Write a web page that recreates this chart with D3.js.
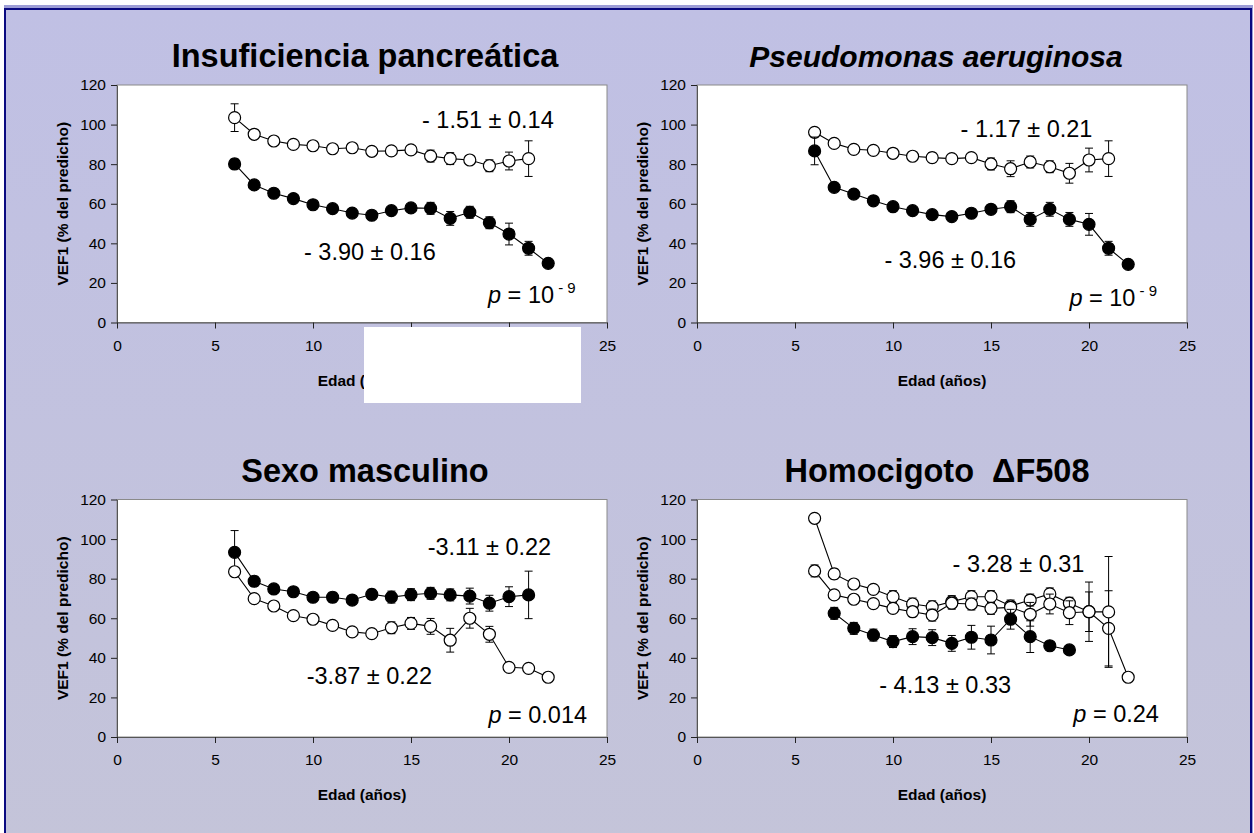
<!DOCTYPE html>
<html><head><meta charset="utf-8">
<script src="https://cdn.jsdelivr.net/npm/d3@7"></script>
<style>
body{margin:0;background:#fff}
svg{display:block}
text{font-family:"Liberation Sans",Arial,Helvetica,sans-serif;fill:#000}
</style>
</head><body>
<svg id="chart" width="1254" height="833"></svg>
<script>
// ---------- data ----------
const ages = [6,7,8,9,10,11,12,13,14,15,16,17,18,19,20,21,22];
const xTicks = [0,5,10,15,20,25];
const yTicks = [0,20,40,60,80,100,120];

const titles = ["Insuficiencia pancreática", "Pseudomonas aeruginosa", "Sexo masculino", "Homocigoto  \u0394F508"];
const xLabel = "Edad (años)";
const yLabel = "VEF1 (% del predicho)";

// Panel 1: Insuficiencia pancreática
const p1Open      = [103.5,95.1,91.7,90.0,89.3,87.8,88.3,86.5,86.7,87.2,84.1,82.8,82.1,79.2,81.6,82.8,null];
const p1OpenErr   = [7,2,1.5,1.5,1.5,1.5,1.5,1.5,1.5,1.5,3,3,2,3,4.5,9,0];
const p1Filled    = [80.1,69.5,65.3,62.6,59.5,57.5,55.3,54.2,56.5,57.9,57.7,52.6,55.7,50.4,44.7,37.5,29.9];
const p1FilledErr = [2.5,1.5,1.5,1.5,1.5,1.5,1.5,1.5,1.5,1.5,3,3.5,3,3,5.5,3.5,0];

// Panel 2: Pseudomonas aeruginosa
const p2Open      = [96.1,90.5,87.5,87.0,85.5,84.0,83.3,82.8,83.3,80.1,77.7,81.1,78.7,75.4,82.1,82.8,null];
const p2OpenErr   = [2,2,1.5,1.5,1.5,1.5,2.5,1.5,1.5,3,4,3,3,5,6,9,0];
const p2Filled    = [86.7,68.3,64.9,61.5,58.5,56.5,54.5,53.5,55.2,57.2,58.5,52.1,57.2,52.1,49.6,37.5,29.4];
const p2FilledErr = [7,1.5,1.5,1.5,1.5,1.5,1.5,1.5,2,1.5,3,3.5,3.5,3.5,5.5,3.5,0];

// Panel 3: Sexo masculino
const p3Filled    = [93.3,78.7,74.8,73.4,70.6,70.6,69.2,72.1,70.7,71.9,72.6,71.8,71.2,67.6,70.9,71.8,null];
const p3FilledErr = [11,2.5,2,2,2,2.5,2,2.5,3,3,3,3,4,4,5,12,0];
const p3Open      = [83.5,69.9,66.2,61.3,59.5,56.4,53.1,52.2,55.2,57.4,55.9,48.9,60.0,51.9,35.2,34.7,30.2];
const p3OpenErr   = [2,2,2,1.5,1.5,1.5,1.5,2,3,3,4,6,5,4,0,0,0];

// Panel 4: Homocigoto ΔF508
const p4OpenA     = [110.5,82.4,77.3,74.6,70.9,67.2,65.8,68.4,70.9,70.9,66.2,69.2,72.3,67.6,63.3,54.9,30.2];
const p4OpenAErr  = [0,2.5,2,2,3,3,3,3,3,3,3,3,3,3,10,19,0];
const p4OpenB     = [83.9,71.8,69.6,67.4,65.0,63.3,61.6,67.6,67.2,65.0,65.5,62.0,67.2,62.8,63.3,63.2,null];
const p4OpenBErr  = [3,2,2,2,2,2.5,3,3,3,3,3,6,5,6,15,28,0];
const p4Filled    = [null,62.5,54.9,51.5,48.2,50.7,50.2,47.3,50.4,49.0,59.5,50.7,46.1,44.0,null,null,null];
const p4FilledErr = [0,3,3,3,3,4,4,4,6,7,5,8,0,0,0,0,0];

// annotations: [text, p-value part, age, value]
const notes1 = [["- 1.51 \u00B1 0.14", null, 15.56, 98.3], ["- 3.90 \u00B1 0.16", null, 9.54, 31.6], ["p", "10|- 9", 18.93, 10.0]];
const notes2 = [["- 1.17 \u00B1 0.21", null, 13.45, 93.6], ["- 3.96 \u00B1 0.16", null, 9.56, 27.4], ["p", "10|- 9", 19.0, 8.3]];
const notes3 = [["-3.11 \u00B1 0.22", null, 15.85, 92.0], ["-3.87 \u00B1 0.22", null, 9.68, 26.6], ["p", "0.014|", 18.95, 7.2]];
const notes4 = [["- 3.28 \u00B1 0.31", null, 13.04, 83.5], ["- 4.13 \u00B1 0.33", null, 9.3, 22.4], ["p", "0.24|", 19.2, 7.7]];

// ---------- layout ----------
const svg = d3.select("#chart");
const defs = svg.append("defs");
const grad = defs.append("linearGradient").attr("id","bg").attr("x1",0).attr("y1",0).attr("x2",0).attr("y2",1);
grad.append("stop").attr("offset","0%").attr("stop-color","#c0c0e4");
grad.append("stop").attr("offset","100%").attr("stop-color","#c4c4d9");

svg.append("rect").attr("x",0).attr("y",0).attr("width",1254).attr("height",833).attr("fill","#fff");
svg.append("rect").attr("x",4).attr("y",5).attr("width",1249).attr("height",840).attr("fill","#9d9dd6");
svg.append("rect").attr("x",5).attr("y",9).attr("width",1246).attr("height",840)
   .attr("fill","url(#bg)").attr("stroke","#0a0a80").attr("stroke-width",2);

const PW = 490, PH = 237.5;
const panels = [
  {title: titles[0], italic:false, fs:32.5, px:117, py:85, tx:365, notes:notes1,
   series:[{v:p1Open,e:p1OpenErr,filled:false},{v:p1Filled,e:p1FilledErr,filled:true}]},
  {title: titles[1], italic:true, fs:30, px:697, py:85, tx:936, notes:notes2,
   series:[{v:p2Open,e:p2OpenErr,filled:false},{v:p2Filled,e:p2FilledErr,filled:true}]},
  {title: titles[2], italic:false, fs:32.5, px:117, py:499.5, tx:365, notes:notes3,
   series:[{v:p3Filled,e:p3FilledErr,filled:true},{v:p3Open,e:p3OpenErr,filled:false}]},
  {title: titles[3], italic:false, fs:32.5, px:697, py:499.5, tx:937, notes:notes4,
   series:[{v:p4OpenA,e:p4OpenAErr,filled:false},{v:p4OpenB,e:p4OpenBErr,filled:false},{v:p4Filled,e:p4FilledErr,filled:true}]}
];

panels.forEach(p => {
  const x = d3.scaleLinear().domain([0,25]).range([p.px, p.px+PW]);
  const y = d3.scaleLinear().domain([0,120]).range([p.py+PH, p.py]);
  const g = svg.append("g");

  // plot area
  g.append("rect").attr("x",p.px).attr("y",p.py).attr("width",PW).attr("height",PH)
    .attr("fill","#fff").attr("stroke","#8a8a8a").attr("stroke-width",1);

  // axes
  const ya = g.append("g").attr("transform",`translate(${p.px},0)`)
    .call(d3.axisLeft(y).tickValues(yTicks).tickSize(6).tickPadding(5).tickSizeOuter(0));
  const xa = g.append("g").attr("transform",`translate(0,${p.py+PH})`)
    .call(d3.axisBottom(x).tickValues(xTicks).tickSize(6).tickPadding(11).tickSizeOuter(0));
  [ya,xa].forEach(a => {
    a.select(".domain").attr("stroke","#555");
    a.selectAll(".tick line").attr("stroke","#222");
    a.selectAll("text").attr("font-size",15.5).attr("font-family","Liberation Sans, Arial, sans-serif").attr("fill","#000");
  });

  // axis titles
  g.append("text").attr("x", p.px+PW/2).attr("y", p.py+PH+63).attr("text-anchor","middle")
    .attr("font-size",15.5).attr("font-weight","bold").text(xLabel);
  g.append("text").attr("transform",`translate(${p.px-49},${p.py+PH/2}) rotate(-90)`)
    .attr("text-anchor","middle").attr("font-size",15.5).attr("font-weight","bold").text(yLabel);

  // chart title
  g.append("text").attr("x", p.tx).attr("y", p.py-18).attr("text-anchor","middle")
    .attr("font-size",p.fs).attr("font-weight","bold").attr("font-style", p.italic?"italic":"normal")
    .style("white-space","pre").attr("xml:space","preserve").text(p.title);

  // series
  const line = d3.line().defined(d => d.v != null).x(d => x(d.a)).y(d => y(d.v));
  p.series.forEach(s => {
    const pts = ages.map((a,i) => ({a, v:s.v[i], e:s.e[i]||0}));
    const valid = pts.filter(d => d.v != null);
    const eb = g.append("g").attr("stroke","#000").attr("stroke-width",1);
    valid.filter(d => d.e > 0).forEach(d => {
      const cx = x(d.a), y1 = y(d.v + d.e), y2 = y(d.v - d.e);
      eb.append("line").attr("x1",cx).attr("x2",cx).attr("y1",y1).attr("y2",y2);
      eb.append("line").attr("x1",cx-4).attr("x2",cx+4).attr("y1",y1).attr("y2",y1);
      eb.append("line").attr("x1",cx-4).attr("x2",cx+4).attr("y1",y2).attr("y2",y2);
    });
    g.append("path").datum(pts).attr("d",line).attr("fill","none").attr("stroke","#000").attr("stroke-width",1.1);
    g.append("g").selectAll("circle").data(valid).join("circle")
      .attr("cx",d => x(d.a)).attr("cy",d => y(d.v)).attr("r",6)
      .attr("fill", s.filled ? "#000" : "#fff").attr("stroke","#000").attr("stroke-width",1.2);
  });

  // annotations
  p.notes.forEach(n => {
    const t = g.append("text").attr("x", x(n[2])).attr("y", y(n[3])).attr("font-size",23.5)
      .style("white-space","pre").attr("xml:space","preserve");
    if (n[1] === null) {
      t.text(n[0]);
    } else {
      const parts = n[1].split("|");
      t.append("tspan").attr("font-style","italic").text(n[0]);
      t.append("tspan").text(" = " + parts[0]);
      if (parts[1]) {
        t.append("tspan").attr("font-size",15).attr("dy",-10).text(" " + parts[1]);
      }
    }
  });
});

// white patch present in the original image (covers part of the first x-axis labels)
svg.append("rect").attr("x",364).attr("y",327).attr("width",217).attr("height",76).attr("fill","#fff");
</script>
</body></html>
